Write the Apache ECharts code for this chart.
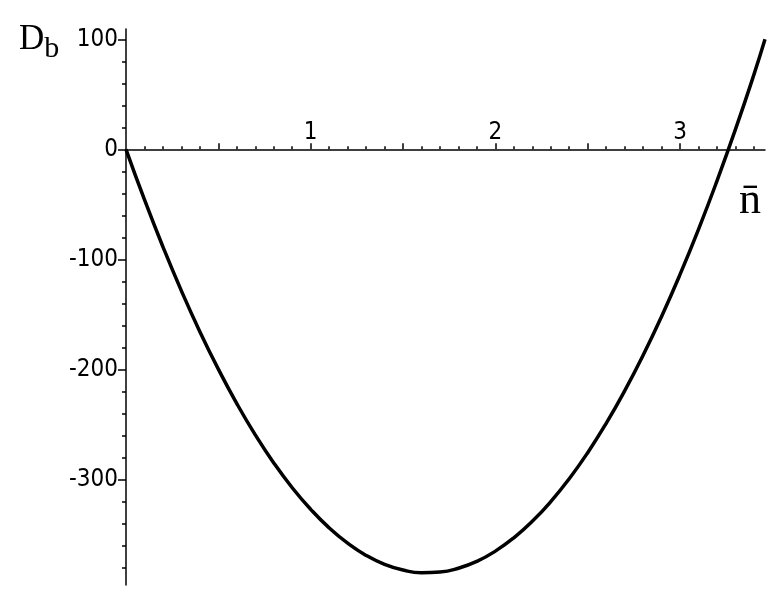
<!DOCTYPE html>
<html>
<head>
<meta charset="utf-8">
<script src="https://cdn.jsdelivr.net/npm/echarts@6/dist/echarts.min.js"></script>
<style>
  html, body { margin: 0; padding: 0; background: #fff; }
  #chart { width: 777px; height: 600px; }
</style>
</head>
<body>
<div id="chart"></div>
<script>
// curve D_b(n̄)
const nValues = [0, 0.1, 0.2, 0.3, 0.4, 0.5, 0.6, 0.7, 0.8, 0.9, 1.0, 1.1, 1.2, 1.3, 1.4, 1.5, 1.6, 1.7,
  1.8, 1.9, 2.0, 2.1, 2.2, 2.3, 2.4, 2.5, 2.6, 2.7, 2.8, 2.9, 3.0, 3.1, 3.2, 3.3, 3.4, 3.46];
const dbValues = [0, -45.8, -88.6, -128.6, -165.7, -199.8, -231.1, -259.5, -285.0, -307.6, -327.2, -344.1,
  -358.0, -369.1, -377.2, -382.4, -384.8, -384.2, -380.8, -374.5, -365.2, -353.1, -338.1, -320.2, -299.4,
  -275.7, -249.1, -219.6, -187.2, -151.9, -113.7, -72.7, -28.7, 18.1, 67.9, 100];

// axis ticks and labels
const xLabels = [1, 2, 3];
const xMajorTicks = [0.5, 1, 1.5, 2, 2.5, 3];
const xMinorTicks = [0.1, 0.2, 0.3, 0.4, 0.6, 0.7, 0.8, 0.9, 1.1, 1.2, 1.3, 1.4, 1.6, 1.7, 1.8, 1.9,
  2.1, 2.2, 2.3, 2.4, 2.6, 2.7, 2.8, 2.9, 3.1, 3.2, 3.3, 3.4];
const yLabels = [-300, -200, -100, 0, 100];
const yMinorTicks = [-380, -360, -340, -320, -280, -260, -240, -220, -180, -160, -140, -120,
  -80, -60, -40, -20, 20, 40, 60, 80];

const xMax = 3.46;
const yMin = -396;
const yMax = 109.4;

const chart = echarts.init(document.getElementById('chart'));

const lineStyle = { color: '#000', width: 1.5 };
const labelFont = { fontFamily: 'DejaVu Sans Condensed, DejaVu Sans', fontSize: 24, color: '#000' };

chart.setOption({
  animation: false,
  grid: [
    // main plot
    { left: 126, right: 12, top: 29, bottom: 15, outerBoundsMode: 'none' },
    // upper part only, its bottom edge is the D_b = 0 line where the n̄ axis sits
    { left: 126, right: 12, top: 29, height: 120.3, outerBoundsMode: 'none' },
  ],
  xAxis: [
    { type: 'value', gridIndex: 0, min: 0, max: xMax, show: false },
    {
      type: 'value', gridIndex: 1, min: 0, max: xMax, position: 'bottom',
      axisLine: { onZero: false, lineStyle },
      axisTick: { inside: true, length: 6, customValues: xMajorTicks, lineStyle },
      axisLabel: { inside: true, margin: 5, customValues: xLabels, ...labelFont },
      splitLine: { show: false },
    },
    {
      type: 'value', gridIndex: 1, min: 0, max: xMax, position: 'bottom',
      axisLine: { show: false, onZero: false },
      axisTick: { inside: true, length: 3, customValues: xMinorTicks, lineStyle },
      axisLabel: { show: false },
      splitLine: { show: false },
    },
  ],
  yAxis: [
    {
      type: 'value', gridIndex: 0, min: yMin, max: yMax,
      axisLine: { onZero: false, lineStyle },
      axisTick: { length: 8, customValues: yLabels, lineStyle },
      axisLabel: { margin: 8, customValues: yLabels, ...labelFont },
      splitLine: { show: false },
    },
    {
      type: 'value', gridIndex: 0, min: yMin, max: yMax, position: 'left',
      axisLine: { show: false, onZero: false },
      axisTick: { length: 4, customValues: yMinorTicks, lineStyle },
      axisLabel: { show: false },
      splitLine: { show: false },
    },
    { type: 'value', gridIndex: 1, min: 0, max: yMax, show: false },
  ],
  graphic: [
    {
      type: 'text', left: 19, top: 22,
      style: {
        text: '{d|D}{s|b}',
        rich: {
          d: { fontFamily: 'Liberation Serif', fontSize: 35, fill: '#000' },
          s: { fontFamily: 'Liberation Serif', fontSize: 30, fill: '#000', padding: [20, 0, 0, 0] },
        },
      },
    },
    {
      type: 'text', left: 739, top: 179,
      style: { text: 'n\u0304', fontFamily: 'Liberation Serif', fontSize: 44, fill: '#000' },
    },
  ],
  series: [{
    type: 'line',
    xAxisIndex: 0, yAxisIndex: 0,
    data: nValues.map((n, i) => [n, dbValues[i]]),
    smooth: 0.5,
    showSymbol: false,
    lineStyle: { color: '#000', width: 3.5 },
  }],
});
</script>
</body>
</html>
